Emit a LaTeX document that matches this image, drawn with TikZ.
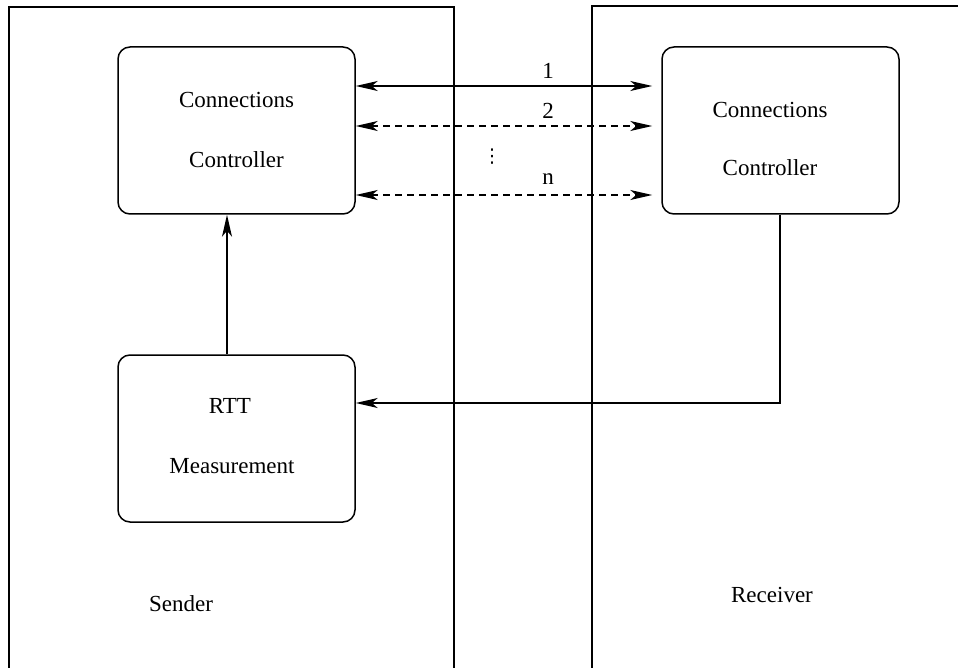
\documentclass[tikz,border=0pt]{standalone}
\usepackage{fontspec}
\setmainfont{Liberation Serif}
\newfontfamily\dvsans{DejaVu Sans}
\usetikzlibrary{arrows.meta}
\begin{document}
\begin{tikzpicture}[x=1pt,y=-1pt,
  blk/.style={draw,line width=1.5pt,rounded corners=12pt,minimum width=237pt,minimum height=167pt,inner sep=0pt},
  txt/.style={font=\fontsize{23}{28}\selectfont,inner sep=0pt},
  con/.style={line width=1.4pt},
  frame/.style={line width=1.4pt},
  tip/.style={-{Stealth[length=22pt,width=10pt,inset=6pt]}},
  dtip/.style={{Stealth[length=22pt,width=10pt,inset=6pt]}-{Stealth[length=22pt,width=10pt,inset=6pt]}},
  dsh/.style={dash pattern=on 7pt off 5pt}
]
\useasboundingbox (0,0) rectangle (958,668);
\clip (0,0) rectangle (958,668);
% frames
\draw[frame] (9,670) -- (9,7) -- (454,7) -- (454,670);
\draw[frame] (592,670) -- (592,6) -- (960,6);
% blocks
\node[blk] (lcc) at (236.5,130.5) {};
\node[blk] (rcc) at (780.5,130.5) {};
\node[blk] (rtt) at (236.5,438.5) {};
\node[txt] (lcct1) at (236.5,100) {Connections};
\node[txt] (lcct2) at (236.5,160) {Controller};
\node[txt] (rcct1) at (770,110) {Connections};
\node[txt] (rcct2) at (770,168) {Controller};
\node[txt] (rttt1) at (230,406) {RTT};
\node[txt] (rttt2) at (232,466) {Measurement};
\node[txt] (snd) at (181,604) {Sender};
\node[txt] (rcv) at (772,595) {Receiver};
% connection labels
\node[txt] (l1) at (548,71) {1};
\node[txt] (l2) at (548,111) {2};
\node[txt] (ln) at (548,179) {n};
\node[inner sep=0pt,font=\dvsans\fontsize{19}{20}\selectfont] (dots) at (492,157) {⋮};
% helper coordinates
\coordinate (y1) at (0,86);
\coordinate (y2) at (0,126);
\coordinate (yn) at (0,195);
\coordinate (vx) at (227,0);
\coordinate (fx) at (780,0);
\coordinate (fy) at (0,403);
% connectors
\draw[con,dtip,shorten >=9pt] (lcc.east |- y1) -- (rcc.west |- y1);
\draw[con,dtip,dsh,shorten >=9pt] (lcc.east |- y2) -- (rcc.west |- y2);
\draw[con,dtip,dsh,shorten >=9pt] (lcc.east |- yn) -- (rcc.west |- yn);
\draw[con,tip] (rtt.north -| vx) -- (lcc.south -| vx);
\draw[con,tip] (rcc.south -| fx) |- (rtt.east |- fy);
\end{tikzpicture}
\end{document}
